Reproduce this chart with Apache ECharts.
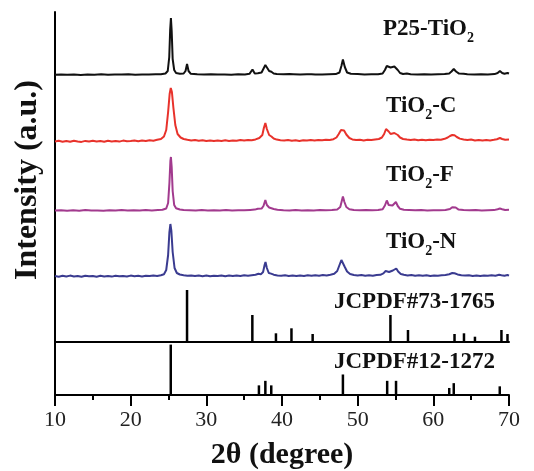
<!DOCTYPE html>
<html>
<head>
<meta charset="utf-8">
<script src="https://cdn.jsdelivr.net/npm/echarts@6/dist/echarts.min.js"></script>
<style>html,body{margin:0;padding:0;background:#fff;}#c{width:534px;height:471px;}</style>
</head>
<body>
<div id="c"></div>
<script>
// ---------- DATA (2θ in degrees, intensity in a.u. above each pattern's own baseline) ----------
var xTicks = [10, 20, 30, 40, 50, 60, 70];

var p25 = [[10,0.3],[10.8,0.6],[11.6,0.2],[12.5,0.5],[13.4,0.1],[14.3,0.6],[15.2,0.3],[16.1,0.7],[17,0.2],[17.9,0.5],[18.8,0.4],[19.7,0.8],[20.6,0.3],[21.5,0.6],[22.4,0.4],[23.3,0.7],[24.0,0.8],[24.6,1.5],[24.9,4],[25.1,18],[25.22,45],[25.32,57],[25.42,44],[25.55,16],[25.75,5],[26.0,2],[26.5,1.2],[27.0,1.5],[27.25,4],[27.45,11],[27.65,4],[27.95,1.2],[28.8,0.7],[29.7,0.4],[30.6,0.8],[31.5,0.5],[32.4,0.6],[33.3,0.3],[34.2,0.7],[35.1,0.6],[35.7,1.2],[36.1,5.5],[36.4,1.6],[36.8,1.8],[37.0,2.2],[37.3,2.5],[37.6,7],[37.8,10],[38.05,7],[38.3,4],[38.6,3.2],[38.9,1.5],[39.3,1.0],[40.2,0.7],[41.0,0.9],[41.2,1.8],[41.5,0.8],[42.4,0.5],[43.3,0.7],[43.9,0.8],[44.1,1.6],[44.4,0.6],[45.3,0.6],[46.2,0.8],[47.1,0.9],[47.6,2.5],[47.85,9],[48.05,15.5],[48.3,8],[48.6,2.5],[49.1,1.2],[50,0.9],[50.9,0.6],[51.8,0.8],[52.7,0.7],[53.3,1.5],[53.6,5],[53.85,9],[54.1,7],[54.35,7.5],[54.6,6.5],[54.85,8.5],[55.05,9.5],[55.3,5],[55.6,2],[56.0,1],[56.5,1.5],[56.7,2],[57.0,0.8],[57.9,0.6],[58.8,0.8],[59.7,0.5],[60.6,0.7],[61.5,0.9],[62.1,1.6],[62.4,3.5],[62.7,6],[63.0,3.5],[63.4,1.4],[64.0,1.2],[64.5,0.8],[65.4,0.6],[66.3,0.8],[67.2,0.5],[68.1,0.9],[68.5,2],[68.8,4],[69.1,2],[69.4,1.2],[69.8,2],[70,1.5]];

var tio2C = [[10,0.5],[10.5,1.2],[11,0.3],[11.5,1.0],[12,0.2],[12.5,1.3],[13,0.6],[13.5,0.1],[14,1.1],[14.5,0.4],[15,1.2],[15.5,0.5],[16,0.9],[16.5,0.2],[17,1.3],[17.5,0.6],[18,1.0],[18.5,0.4],[19,1.4],[19.5,0.7],[20,1.1],[20.5,1.6],[21,0.8],[21.5,1.5],[22,1.0],[22.5,1.8],[23,1.3],[23.5,2.2],[24,3],[24.4,5.5],[24.7,12],[24.95,30],[25.15,48],[25.3,54],[25.45,50],[25.65,34],[25.9,17],[26.2,8],[26.6,4.5],[27.0,3],[27.5,2.2],[28,1.6],[28.5,2],[29,1.2],[29.5,1.8],[30,1.0],[30.5,1.6],[31,0.9],[31.5,1.5],[32,1.1],[32.5,1.7],[33,1.0],[33.5,1.6],[34,1.2],[34.5,1.9],[35,1.4],[35.5,2.0],[36,1.8],[36.5,2.6],[37.0,4],[37.4,7],[37.6,14],[37.8,19],[38.0,13],[38.3,7],[38.6,5.5],[38.9,3.5],[39.3,2.4],[39.8,1.8],[40.3,1.4],[40.8,2.0],[41.3,1.3],[41.8,1.7],[42.3,1.1],[42.8,1.8],[43.3,1.4],[43.8,2.0],[44.3,1.5],[44.8,2.1],[45.3,1.7],[45.8,2.3],[46.3,2.0],[46.8,2.8],[47.2,4.5],[47.5,8],[47.8,12],[48.0,13],[48.2,11.5],[48.5,7.5],[48.9,4],[49.3,2.6],[49.8,1.9],[50.3,2.3],[50.8,1.6],[51.3,2.2],[51.8,1.9],[52.3,2.5],[52.8,3.0],[53.2,4.5],[53.5,8],[53.75,13],[53.9,14],[54.1,10.5],[54.35,8],[54.6,8],[54.85,9],[55.05,9],[55.3,7],[55.6,4.5],[56,3],[56.5,2.4],[57,2.0],[57.5,2.6],[58,1.8],[58.5,2.3],[59,1.7],[59.5,2.2],[60,1.9],[60.5,2.4],[61,2.3],[61.5,3.2],[61.9,4.5],[62.2,6],[62.5,7],[62.8,6.8],[63.1,5],[63.5,3.4],[64,2.5],[64.5,2.0],[65,2.4],[65.5,1.6],[66,2.1],[66.5,1.5],[67,2.0],[67.5,1.6],[68,2.2],[68.4,2.8],[68.8,4],[69.1,3],[69.5,2.3],[70,2.5]];

var tio2F = [[10,0.4],[10.8,0.8],[11.6,0.2],[12.4,0.7],[13.2,0.3],[14,0.9],[14.8,0.4],[15.6,0.6],[16.4,0.2],[17.2,0.8],[18,0.5],[18.8,0.9],[19.6,0.4],[20.4,0.7],[21.2,0.5],[22,0.9],[22.8,0.6],[23.6,1.0],[24.2,1.2],[24.7,2.5],[24.95,8],[25.12,28],[25.25,50],[25.32,54],[25.42,44],[25.55,20],[25.75,6],[26.0,2.8],[26.5,1.5],[27,1.0],[27.8,0.8],[28.6,0.5],[29.4,0.9],[30.2,0.4],[31,0.8],[31.8,0.5],[32.6,0.9],[33.4,0.6],[34.2,0.8],[35,0.7],[35.8,1.1],[36.4,1.4],[36.8,2.2],[37.0,2.8],[37.3,2.4],[37.55,5],[37.8,11],[38.0,6],[38.3,3.5],[38.55,3.6],[38.9,2],[39.4,1.2],[40.2,0.8],[41,0.6],[41.8,0.9],[42.6,0.5],[43.4,0.8],[44.2,0.6],[45,0.9],[45.8,0.7],[46.6,1.0],[47.3,1.5],[47.7,4],[47.9,10],[48.05,14.5],[48.25,9],[48.5,4],[48.9,1.8],[49.5,1.1],[50.3,0.8],[51.1,1.0],[51.9,0.7],[52.7,1.0],[53.3,1.8],[53.6,5.5],[53.85,10.5],[54.1,6],[54.35,5],[54.6,5.5],[54.85,7.5],[55.05,9],[55.3,5],[55.6,2.2],[56.1,1.2],[56.8,1.0],[57.6,0.7],[58.4,0.9],[59.2,0.6],[60,0.8],[60.8,0.7],[61.6,1.0],[62.2,2],[62.5,3.8],[62.7,5.5],[62.95,3.5],[63.3,1.6],[64,1.0],[64.8,0.7],[65.6,0.9],[66.4,0.6],[67.2,0.8],[68,0.9],[68.5,1.8],[68.8,2.5],[69.1,1.8],[69.5,1.0],[70,1.3]];

var tio2N = [[10,1.0],[10.5,0.3],[11,1.2],[11.5,0.5],[12,1.4],[12.5,0.6],[13,1.0],[13.5,0.2],[14,1.3],[14.5,0.7],[15,1.1],[15.5,0.3],[16,1.2],[16.5,0.6],[17,1.0],[17.5,0.4],[18,1.3],[18.5,0.7],[19,1.0],[19.5,0.5],[20,1.4],[20.5,0.8],[21,1.2],[21.5,0.6],[22,1.3],[22.5,0.9],[23,1.5],[23.5,1.1],[24,1.8],[24.4,2.8],[24.7,7],[24.95,22],[25.12,45],[25.25,53],[25.38,46],[25.55,25],[25.8,9],[26.1,4],[26.5,2.5],[27,1.8],[27.5,1.2],[28,1.6],[28.5,0.9],[29,1.5],[29.5,0.8],[30,1.4],[30.5,0.7],[31,1.3],[31.5,0.9],[32,1.5],[32.5,0.8],[33,1.4],[33.5,1.0],[34,1.6],[34.5,1.1],[35,1.7],[35.5,1.2],[36,1.8],[36.5,2.2],[36.9,3.2],[37.2,2.6],[37.5,5],[37.7,12],[37.82,15],[38.0,9],[38.25,4],[38.55,3.4],[38.9,2.3],[39.4,1.6],[39.9,1.2],[40.4,1.7],[40.9,1.0],[41.4,1.5],[41.9,0.9],[42.4,1.6],[42.9,1.1],[43.4,1.7],[43.9,1.2],[44.4,1.8],[44.9,1.3],[45.4,1.9],[45.9,1.6],[46.4,2.3],[46.9,3.2],[47.3,6],[47.6,12],[47.85,17],[48.05,15],[48.3,10],[48.6,5.5],[49.0,3],[49.5,2],[50,1.6],[50.5,2.0],[51,1.3],[51.5,1.8],[52,1.2],[52.5,1.9],[53,2.2],[53.4,3.6],[53.7,6],[53.9,6.5],[54.15,5],[54.4,5.5],[54.65,6.5],[54.9,8],[55.1,8.5],[55.35,5.5],[55.7,3],[56.1,2.2],[56.6,1.6],[57.1,2.0],[57.6,1.3],[58.1,1.8],[58.6,1.2],[59.1,1.7],[59.6,1.1],[60.1,1.6],[60.6,1.3],[61.1,1.8],[61.6,2.1],[62.1,2.8],[62.5,4],[62.8,3.8],[63.2,2.6],[63.7,1.8],[64.2,1.4],[64.7,1.8],[65.2,1.1],[65.7,1.6],[66.2,1.0],[66.7,1.5],[67.2,1.2],[67.7,1.7],[68.2,1.3],[68.7,2.2],[69.0,1.7],[69.4,1.2],[69.8,2.0],[70,1.4]];

// reference patterns (stick positions and relative heights)
var rutile73_1765 = [[27.45,52],[36.08,27],[39.2,8.7],[41.25,13.7],[44.05,8],[54.33,27],[56.65,12],[62.8,8],[64.05,8.7],[65.5,5.3],[69.0,12],[69.8,8]];
var anatase12_1272 = [[25.3,52.3],[36.95,10],[37.8,14.7],[38.58,10],[48.05,21.3],[53.9,14.7],[55.07,14.7],[62.1,7.3],[62.7,12.3],[68.78,9]];

var seriesNames = ['P25-TiO2', 'TiO2-C', 'TiO2-F', 'TiO2-N'];
var seriesData = [p25, tio2C, tio2F, tio2N];
var refNames = ['JCPDF#73-1765', 'JCPDF#12-1272'];

// ---------- layout / style ----------
var offsets = [210, 143, 74, 8];       // vertical stacking of the patterns
var colors = ['#111111', '#e8322b', '#a23a8e', '#3a3b90'];
var FONT = '"Liberation Serif","Times New Roman",serif';

function shift(arr, off) { return arr.map(function (p) { return [p[0], p[1] + off]; }); }

var chart = echarts.init(document.getElementById('c'), null, { renderer: 'canvas' });

var baseX = {
  type: 'value', min: 10, max: 70, interval: 10,
  axisLine: { show: false }, axisTick: { show: false }, axisLabel: { show: false },
  splitLine: { show: false }
};
var baseY = {
  type: 'value', min: 0,
  axisLine: { show: true, lineStyle: { color: '#000', width: 2 } },
  axisTick: { show: false }, axisLabel: { show: false }, splitLine: { show: false }
};

var series = [];
seriesData.forEach(function (d, i) {
  series.push({
    name: seriesNames[i], type: 'line', xAxisIndex: 0, yAxisIndex: 0,
    data: shift(d, offsets[i]), showSymbol: false, smooth: false,
    lineStyle: { color: colors[i], width: 2 }, silent: true, z: 4 - i + 2
  });
});
series.push({
  name: refNames[0], type: 'bar', xAxisIndex: 1, yAxisIndex: 1,
  data: rutile73_1765, barWidth: 2.5, itemStyle: { color: '#000' }, silent: true
});
series.push({
  name: refNames[1], type: 'bar', xAxisIndex: 2, yAxisIndex: 2,
  data: anatase12_1272, barWidth: 2.5, itemStyle: { color: '#000' }, silent: true
});

function label(text, x, y) {
  return {
    type: 'text', left: x, top: y, z: 100,
    style: {
      text: text,
      fill: '#111',
      rich: {
        n: { fontSize: 23, fontWeight: 'bold', fontFamily: FONT, lineHeight: 26, verticalAlign: 'top', fill: '#111' },
        s: { fontSize: 14, fontWeight: 'bold', fontFamily: FONT, verticalAlign: 'top', padding: [13, 0, 0, 0], fill: '#111' }
      }
    }
  };
}

var option = {
  animation: false,
  backgroundColor: '#fff',
  grid: [
    { left: 55, right: 25, top: 12, height: 273 },
    { left: 55, right: 25, top: 285, height: 57 },
    { left: 55, right: 25, top: 342, height: 55 }
  ],
  xAxis: [
    Object.assign({}, baseX, { gridIndex: 0 }),
    Object.assign({}, baseX, { gridIndex: 1, axisLine: { show: true, onZero: false, lineStyle: { color: '#000', width: 2 } } }),
    Object.assign({}, baseX, {
      gridIndex: 2,
      axisLine: { show: true, onZero: false, lineStyle: { color: '#000', width: 2 } },
      axisTick: { show: true, inside: false, length: 11, lineStyle: { color: '#000', width: 2 } },
      minorTick: { show: true, splitNumber: 2, length: 5, lineStyle: { color: '#000', width: 2 } },
      axisLabel: { show: true, margin: 14, fontSize: 22, fontFamily: FONT, color: '#222',
        formatter: function (v) { return xTicks.indexOf(v) >= 0 ? String(v) : ''; } },
      name: '2θ (degree)', nameLocation: 'middle', nameGap: 45,
      nameTextStyle: { fontSize: 30, fontWeight: 'bold', fontFamily: FONT, color: '#111' }
    })
  ],
  yAxis: [
    Object.assign({}, baseY, { gridIndex: 0, max: 273 }),
    Object.assign({}, baseY, { gridIndex: 1, max: 57 }),
    Object.assign({}, baseY, { gridIndex: 2, max: 55 })
  ],
  series: series,
  graphic: [
    label('{n|P25-TiO}{s|2}', 383, 18),
    label('{n|TiO}{s|2}{n|-C}', 386, 95),
    label('{n|TiO}{s|2}{n|-F}', 386, 164),
    label('{n|TiO}{s|2}{n|-N}', 386, 231),
    { type: 'text', left: 334, top: 291, z: 100,
      style: { text: refNames[0], fontSize: 23, fontWeight: 'bold', fontFamily: FONT, fill: '#111' } },
    { type: 'text', left: 334, top: 351, z: 100,
      style: { text: refNames[1], fontSize: 23, fontWeight: 'bold', fontFamily: FONT, fill: '#111' } },
    { type: 'text', x: 28, y: 180, rotation: Math.PI / 2, z: 100,
      style: { text: 'Intensity (a.u.)', fontSize: 32, fontWeight: 'bold', fontFamily: FONT, fill: '#111',
        align: 'center', verticalAlign: 'middle' } }
  ]
};
chart.setOption(option);
</script>
</body>
</html>
